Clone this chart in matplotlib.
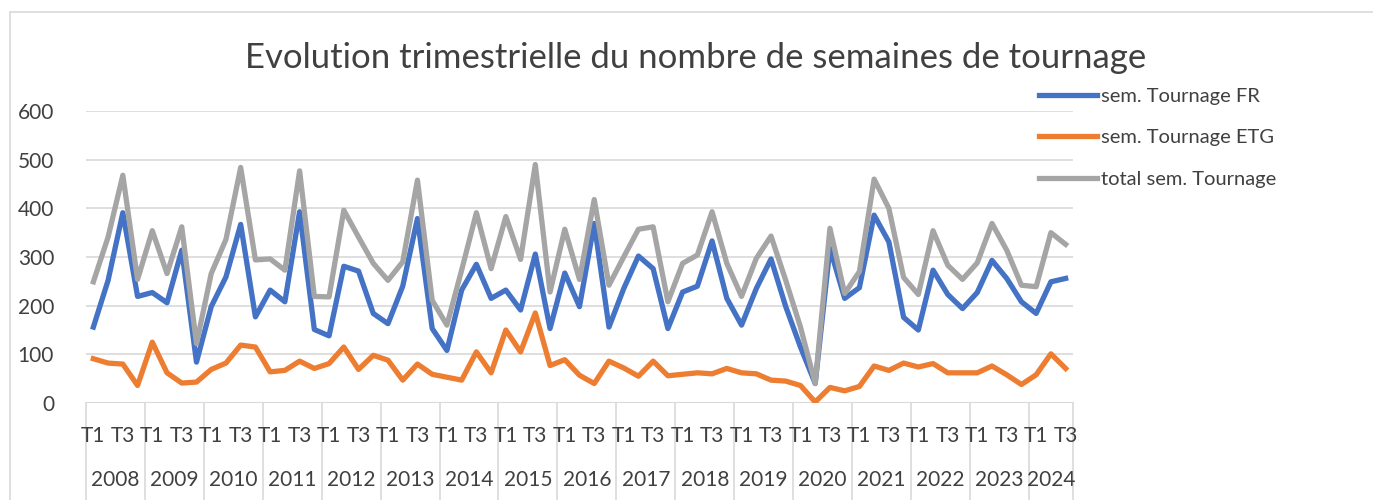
import matplotlib.pyplot as plt
from matplotlib.patches import Rectangle
from matplotlib.transforms import blended_transform_factory

plt.rcParams['font.family'] = ['Lato', 'DejaVu Sans']

years = [str(y) for y in range(2008, 2025)]
quarters = ['T1', 'T2', 'T3', 'T4']

# sem. Tournage FR, 2008 T1 .. 2024 T3
fr = [156, 252, 391, 219, 227, 206, 314, 84, 198, 259, 367, 177, 232, 208, 393, 151,
      138, 281, 271, 184, 163, 240, 379, 153, 108, 232, 285, 215, 232, 191, 306, 153,
      267, 198, 369, 156, 235, 302, 276, 153, 228, 240, 333, 215, 160, 235, 296, 198,
      115, 40, 318, 215, 237, 386, 331, 176, 150, 273, 223, 194, 227, 293, 256, 208,
      184, 249, 256]
# sem. Tournage ETG
etg = [91, 82, 80, 36, 125, 62, 41, 43, 69, 82, 119, 115, 64, 67, 86, 71,
       81, 115, 69, 98, 88, 47, 80, 59, 53, 47, 105, 62, 150, 105, 185, 77,
       89, 57, 40, 86, 72, 55, 86, 56, 59, 62, 60, 71, 62, 60, 47, 45,
       36, 2, 32, 25, 34, 76, 67, 82, 74, 81, 62, 62, 62, 76, 58, 38,
       58, 101, 71]
# total sem. Tournage
total = [249, 341, 468, 254, 354, 266, 362, 122, 266, 336, 484, 294, 296, 273, 477, 219,
         218, 396, 341, 287, 252, 290, 458, 211, 160, 273, 391, 276, 383, 295, 490, 228,
         357, 254, 418, 242, 300, 357, 362, 208, 287, 304, 393, 287, 219, 297, 343, 252,
         156, 40, 359, 225, 270, 460, 400, 258, 223, 354, 283, 254, 288, 369, 314, 242,
         239, 350, 326]

labels = [quarters[i % 4] for i in range(len(fr))]
text_col = '#404040'
grid_col = '#d9d9d9'

fig = plt.figure(figsize=(13.73, 5), dpi=100)
fig.patches.append(Rectangle((10 / 1373, -0.1), 1.2, 0.1 + (500 - 12) / 500,
                             transform=fig.transFigure, fill=False,
                             edgecolor=grid_col, linewidth=1.2))
ax = fig.add_axes([86 / 1373, 97 / 500, 987 / 1373, 292 / 500])

x = list(range(len(fr)))
ax.plot(x, fr, color='#4472C4', lw=3.8, label='sem. Tournage FR', solid_joinstyle='round')
ax.plot(x, etg, color='#ED7D31', lw=3.8, label='sem. Tournage ETG', solid_joinstyle='round')
ax.plot(x, total, color='#A5A5A5', lw=3.8, label='total sem. Tournage', solid_joinstyle='round')

ax.set_xlim(-0.5, len(fr) - 0.5)
ax.set_ylim(0, 600)
ax.set_yticks(range(0, 700, 100))
for v in range(100, 700, 100):
    ax.axhline(v, color=grid_col, lw=1.2, zorder=0)
ax.axhline(0, color=grid_col, lw=1.5, zorder=0)
for s in ax.spines.values():
    s.set_visible(False)
ax.tick_params(axis='y', length=0, pad=23, labelsize=15, labelcolor=text_col)
ax.set_xticks([])

trans = blended_transform_factory(ax.transData, ax.transAxes)
for i, lab in enumerate(labels):
    if lab in ('T1', 'T3'):
        ax.text(i, -0.113, lab, transform=trans, ha='center', va='center',
                fontsize=15, color=text_col)
for k, yr in enumerate(years):
    start = 4 * k - 0.5
    end = min(start + 4, len(fr) - 0.5)
    ax.text((start + end) / 2, -0.264, yr, transform=trans, ha='center', va='center',
            fontsize=15, color=text_col)
    ax.plot([start, start], [0, -0.35], transform=trans, color=grid_col, lw=1.2, clip_on=False)
ax.plot([len(fr) - 0.5] * 2, [0, -0.35], transform=trans, color=grid_col, lw=1.2, clip_on=False)

fig.text(696 / 1373, 1 - 58 / 500, 'Evolution trimestrielle du nombre de semaines de tournage',
         ha='center', va='center', fontsize=25, color=text_col)

leg = ax.legend(loc='upper left', bbox_to_anchor=(1039 / 1373, 1 - 88 / 500),
                bbox_transform=fig.transFigure, frameon=False, fontsize=14.5,
                handlelength=2.9, handletextpad=0.2, labelspacing=1.2,
                borderpad=0, borderaxespad=0)
for t in leg.get_texts():
    t.set_color(text_col)

fig.savefig('out.png', dpi=100)
